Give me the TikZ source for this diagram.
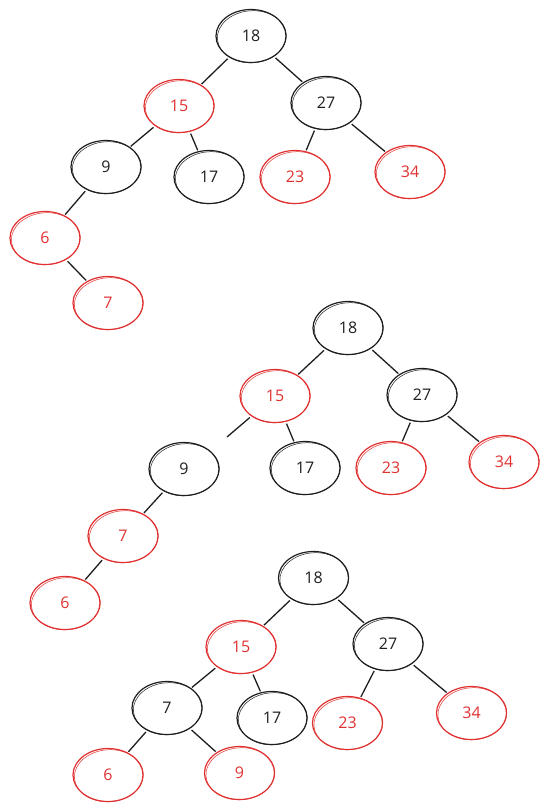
\documentclass[tikz,border=0pt]{standalone}
\usepackage{fontspec}
\setmainfont{Open Sans}
\usetikzlibrary{shapes.geometric}
\definecolor{skred}{HTML}{E03131}
\definecolor{skblack}{HTML}{1E1E1E}
\begin{document}
\begin{tikzpicture}[x=1pt,y=-1pt,
  rbnode/.style={ellipse, draw, line width=1.2pt, minimum width=70pt, minimum height=53pt, inner sep=0pt, font=\fontsize{16}{18}\selectfont},
  blk/.style={rbnode, draw=skblack, text=skblack},
  rd/.style={rbnode, draw=skred, text=skred},
  edge/.style={draw=skblack, line width=1.3pt, shorten >=1pt, shorten <=2pt}]
\useasboundingbox (0,0) rectangle (549,811);
% ---------- tree 1
\node[blk] (a18) at (251,36) {18};
\node[rd]  (a15) at (179,106) {15};
\node[blk] (a27) at (326,103) {27};
\node[blk] (a9)  at (106,167) {9};
\node[blk] (a17) at (209,177) {17};
\node[rd]  (a23) at (295,177) {23};
\node[rd]  (a34) at (410,172) {34};
\node[rd]  (a6)  at (45,238) {6};
\node[rd]  (a7)  at (108,303) {7};
\draw[edge] (a18) -- (a15);
\draw[edge] (a18) -- (a27);
\draw[edge] (a15) -- (a9);
\draw[edge] (a15) -- (a17);
\draw[edge] (a27) -- (a23);
\draw[edge] (a27) -- (a34);
\draw[edge] (a9) -- (a6);
\draw[edge] (a6) -- (a7);
% ---------- tree 2
\node[blk] (b18) at (348,328) {18};
\node[rd]  (b15) at (275,396) {15};
\node[blk] (b27) at (422,395) {27};
\node[blk] (b9)  at (184,469) {9};
\node[blk] (b17) at (305,468) {17};
\node[rd]  (b23) at (391,468) {23};
\node[rd]  (b34) at (504,462) {34};
\node[rd]  (b7)  at (123,536) {7};
\node[rd]  (b6)  at (65,603) {6};
\coordinate (bcut) at (227,437);
\draw[edge] (b18) -- (b15);
\draw[edge] (b18) -- (b27);
\draw[edge, shorten >=0pt] (b15) -- (bcut);
\draw[edge] (b15) -- (b17);
\draw[edge] (b27) -- (b23);
\draw[edge] (b27) -- (b34);
\draw[edge] (b9) -- (b7);
\draw[edge] (b7) -- (b6);
% ---------- tree 3
\node[blk] (c18) at (313.5,578) {18};
\node[rd]  (c15) at (241,647) {15};
\node[blk] (c27) at (388,644) {27};
\node[blk] (c7)  at (167,708) {7};
\node[blk] (c17) at (272,718) {17};
\node[rd]  (c23) at (347.5,723) {23};
\node[rd]  (c34) at (471.5,713) {34};
\node[rd]  (c6)  at (108,775) {6};
\node[rd]  (c9)  at (239.5,773) {9};
\draw[edge] (c18) -- (c15);
\draw[edge] (c18) -- (c27);
\draw[edge] (c15) -- (c7);
\draw[edge] (c15) -- (c17);
\draw[edge] (c27) -- (c23);
\draw[edge] (c27) -- (c34);
\draw[edge] (c7) -- (c6);
\draw[edge] (c7) -- (c9);
% ---------- sketchy second strokes
\foreach \n/\c in {a18/skblack,a15/skred,a27/skblack,a9/skblack,a17/skblack,a23/skred,a34/skred,a6/skred,a7/skred,
                   b18/skblack,b15/skred,b27/skblack,b9/skblack,b17/skblack,b23/skred,b34/skred,b7/skred,b6/skred,
                   c18/skblack,c15/skred,c27/skblack,c7/skblack,c17/skblack,c23/skred,c34/skred,c6/skred,c9/skred}
  \draw[\c, line width=0.5pt, rotate around={4:(\n.center)}] ([shift={(0.8,0.8)}]\n.center) ellipse [x radius=34.5, y radius=26];
\end{tikzpicture}
\end{document}
